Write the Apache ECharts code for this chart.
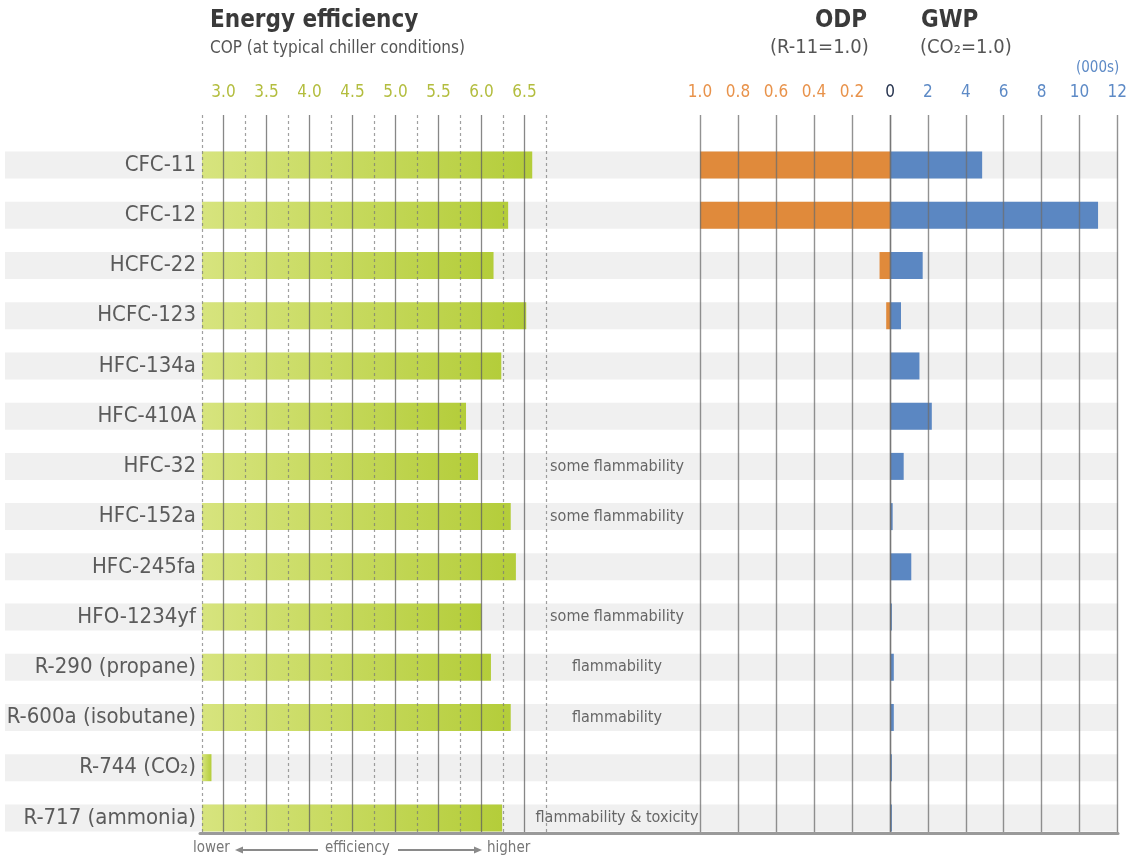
<!DOCTYPE html>
<html>
<head>
<meta charset="utf-8">
<script src="https://cdn.jsdelivr.net/npm/echarts@6/dist/echarts.min.js"></script>
<style>
  html, body { margin: 0; padding: 0; background: #fff; }
  #main { width: 1130px; height: 861px; }
</style>
</head>
<body>
<div id="main"></div>
<script>
// refrigerants, top to bottom
var categories = ['CFC-11', 'CFC-12', 'HCFC-22', 'HCFC-123', 'HFC-134a', 'HFC-410A', 'HFC-32',
  'HFC-152a', 'HFC-245fa', 'HFO-1234yf', 'R-290 (propane)', 'R-600a (isobutane)', 'R-744 (CO\u2082)', 'R-717 (ammonia)'];
// COP at typical chiller conditions
var copValues = [6.59, 6.31, 6.14, 6.52, 6.23, 5.82, 5.96, 6.34, 6.40, 6.00, 6.11, 6.34, 2.86, 6.24];
// ODP (R-11 = 1.0)
var odpValues = [1.0, 1.0, 0.055, 0.02, 0, 0, 0, 0, 0, 0, 0, 0, 0, 0];
// GWP in thousands (CO2 = 1.0)
var gwpValues = [4.85, 10.95, 1.72, 0.58, 1.55, 2.2, 0.72, 0.14, 1.12, 0.1, 0.2, 0.2, 0.1, 0.1];
var notes = ['', '', '', '', '', '', 'some flammability', 'some flammability', '', 'some flammability',
  'flammability', 'flammability', '', 'flammability & toxicity'];

var FONT = "'Liberation Sans Narrow', 'DejaVu Sans Condensed', 'Roboto', sans-serif";

var chart = echarts.init(document.getElementById('main'));

var ROW_TOP = 140, ROW_H = 703, LINE_TOP = 115, LINE_H = 718;

function hiddenY(grid, withLabels) {
  return {
    type: 'category', gridIndex: grid, data: categories, inverse: true,
    axisLine: { show: false }, axisTick: { show: false }, splitLine: { show: false },
    axisLabel: withLabels ? { show: true, fontFamily: FONT, fontSize: 22, color: '#5b5b5b', margin: 6 } : { show: false },
    z: withLabels ? 6 : 0
  };
}
function hiddenX(grid, min, max, inverse) {
  return {
    type: 'value', gridIndex: grid, min: min, max: max, inverse: !!inverse,
    axisLine: { show: false }, axisTick: { show: false }, axisLabel: { show: false }, splitLine: { show: false }
  };
}
function lineX(grid, min, max, interval, lineStyle, label, inverse) {
  return {
    type: 'value', gridIndex: grid, min: min, max: max, interval: interval, inverse: !!inverse,
    position: 'top', z: 4,
    axisLine: { show: false }, axisTick: { show: false },
    axisLabel: label ? Object.assign({ show: true, fontFamily: FONT, fontSize: 17, margin: 14 }, label) : { show: false },
    splitLine: { show: true, lineStyle: lineStyle }
  };
}
function titleText(text, left, top, size, bold, color) {
  return {
    text: text, left: left, top: top, padding: 0,
    textStyle: { fontFamily: FONT, fontSize: size, fontWeight: bold ? 'bold' : 'normal', color: color }
  };
}

var solid = { color: 'rgba(95,95,95,0.75)', width: 1.3, type: 'solid' };
var dashed = { color: 'rgba(120,120,120,0.7)', width: 1.2, type: [3, 3] };
var rightLine = { color: 'rgba(110,110,110,0.75)', width: 1.4, type: 'solid' };

var option = {
  animation: false,
  backgroundColor: '#fff',
  title: [
    titleText('Energy efficiency', 210, 9, 24, true, '#3a3a3a'),
    titleText('COP (at typical chiller conditions)', 210, 40, 17, false, '#555'),
    titleText('ODP', 815, 9, 24, true, '#3a3a3a'),
    titleText('(R-11=1.0)', 770, 38, 20, false, '#555'),
    titleText('GWP', 921, 9, 24, true, '#3a3a3a'),
    titleText('(CO\u2082=1.0)', 920, 38, 20, false, '#555'),
    titleText('(000s)', 1076, 61, 15, false, '#5d8ac6')
  ],
  grid: [
    // 0 background bands
    { left: 5, width: 1113, top: ROW_TOP, height: ROW_H },
    // 1 COP bars
    { left: 202, width: 344, top: ROW_TOP, height: ROW_H },
    // 2 ODP bars
    { left: 700, width: 190, top: ROW_TOP, height: ROW_H },
    // 3 GWP bars
    { left: 890, width: 228, top: ROW_TOP, height: ROW_H },
    // 4 notes
    { left: 546, width: 142, top: ROW_TOP, height: ROW_H },
    // 5 COP dashed quarter lines
    { left: 202, width: 344, top: LINE_TOP, height: LINE_H },
    // 6 COP solid lines + labels
    { left: 223.5, width: 301, top: LINE_TOP, height: LINE_H },
    // 7 ODP lines
    { left: 700, width: 190, top: LINE_TOP, height: LINE_H },
    // 8 GWP lines
    { left: 890, width: 228, top: LINE_TOP, height: LINE_H },
    // 9 bottom axis line
    { left: 200, width: 918, top: LINE_TOP, height: LINE_H }
  ],
  xAxis: [
    hiddenX(0, 0, 1),
    hiddenX(1, 2.75, 6.75),
    hiddenX(2, 0, 1, true),
    hiddenX(3, 0, 12),
    hiddenX(4, 0, 1),
    lineX(5, 2.75, 6.75, 0.5, dashed, null),
    lineX(6, 3.0, 6.5, 0.5, solid, { color: '#b3bd3e', formatter: function (v) { return v.toFixed(1); } }),
    lineX(7, 0, 1, 0.2, rightLine, { color: '#e8924a', formatter: function (v) { return v === 0 ? '' : v.toFixed(1); } }, true),
    lineX(8, 0, 12, 2, rightLine, {
      color: '#5d8ac6',
      formatter: function (v) { return v === 0 ? '{z|0}' : String(v); },
      rich: { z: { color: '#27344f', fontFamily: FONT, fontSize: 17 } }
    }),
    {
      type: 'value', gridIndex: 9, min: 0, max: 1, position: 'bottom', z: 4,
      axisLine: { show: true, lineStyle: { color: '#9a9a9a', width: 3 } },
      axisTick: { show: false }, axisLabel: { show: false }, splitLine: { show: false }
    }
  ],
  yAxis: [
    hiddenY(0, false),
    hiddenY(1, true),
    hiddenY(2, false),
    hiddenY(3, false),
    hiddenY(4, false),
    { type: 'value', gridIndex: 5, show: false },
    { type: 'value', gridIndex: 6, show: false },
    { type: 'value', gridIndex: 7, show: false },
    { type: 'value', gridIndex: 8, show: false },
    { type: 'value', gridIndex: 9, show: false }
  ],
  series: [
    {
      name: 'band', type: 'bar', xAxisIndex: 0, yAxisIndex: 0, silent: true, z: 1,
      barWidth: 27, data: categories.map(function () { return 1; }),
      itemStyle: { color: '#f0f0f0' }
    },
    {
      name: 'COP', type: 'bar', xAxisIndex: 1, yAxisIndex: 1, z: 2, barWidth: 27,
      data: copValues,
      itemStyle: {
        color: new echarts.graphic.LinearGradient(0, 0, 1, 0, [
          { offset: 0, color: '#d7e47e' },
          { offset: 1, color: '#b4cd3a' }
        ])
      }
    },
    {
      name: 'ODP', type: 'bar', xAxisIndex: 2, yAxisIndex: 2, z: 2, barWidth: 27,
      data: odpValues, itemStyle: { color: '#e08a3b' }
    },
    {
      name: 'GWP', type: 'bar', xAxisIndex: 3, yAxisIndex: 3, z: 2, barWidth: 27,
      data: gwpValues, itemStyle: { color: '#5b87c2' }
    },
    {
      name: 'notes', type: 'bar', xAxisIndex: 4, yAxisIndex: 4, z: 3, barWidth: 27, silent: true,
      data: categories.map(function () { return 1; }),
      itemStyle: { color: 'rgba(0,0,0,0)' },
      label: {
        show: true, position: 'inside', fontFamily: FONT, fontSize: 16, color: '#666',
        formatter: function (p) { return notes[p.dataIndex]; }
      }
    }
  ],
  graphic: [
    { type: 'text', left: 193, top: 841, style: { text: 'lower', font: '15px ' + FONT, fill: '#777' } },
    { type: 'line', shape: { x1: 238, y1: 850, x2: 318, y2: 850 }, style: { stroke: '#8a8a8a', lineWidth: 2 } },
    { type: 'polygon', shape: { points: [[235, 850], [243, 846.5], [243, 853.5]] }, style: { fill: '#8a8a8a' } },
    { type: 'text', left: 325, top: 841, style: { text: 'efficiency', font: '15px ' + FONT, fill: '#777' } },
    { type: 'line', shape: { x1: 398, y1: 850, x2: 479, y2: 850 }, style: { stroke: '#8a8a8a', lineWidth: 2 } },
    { type: 'polygon', shape: { points: [[482, 850], [474, 846.5], [474, 853.5]] }, style: { fill: '#8a8a8a' } },
    { type: 'text', left: 487, top: 841, style: { text: 'higher', font: '15px ' + FONT, fill: '#777' } }
  ]
};

chart.setOption(option);
</script>
</body>
</html>
